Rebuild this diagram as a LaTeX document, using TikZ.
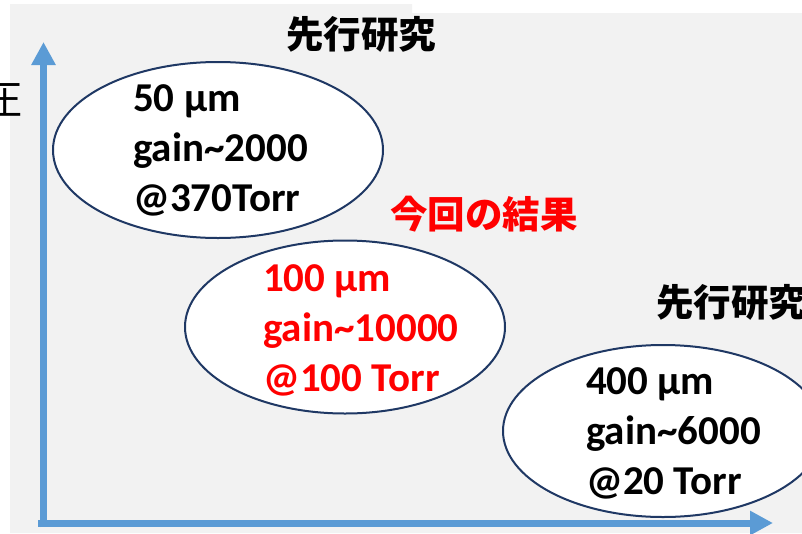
\documentclass[tikz,border=0pt]{standalone}
\usepackage{fontspec}
\setmainfont{Carlito}
\newfontfamily\cjk{Noto Sans CJK JP}
\usetikzlibrary{shapes.geometric,arrows.meta}
\definecolor{bgray}{HTML}{F2F2F2}
\definecolor{axisblue}{HTML}{5B9BD5}
\definecolor{ellnavy}{HTML}{1F3864}
\definecolor{resred}{HTML}{FF0000}
\tikzset{
  oval/.style={ellipse, draw=ellnavy, line width=2pt, fill=white, inner sep=0pt,
    minimum width=330pt, minimum height=176pt},
  lbl/.style={font=\bfseries\fontsize{41}{50}\selectfont, align=left, anchor=north west, inner sep=0pt},
  jlbl/.style={font=\cjk\bfseries\fontsize{37.5}{37.5}\selectfont, inner sep=0pt},
  axisline/.style={draw=axisblue, line width=7pt, -{Triangle[length=23pt,width=23pt]}}
}
\begin{document}
\begin{tikzpicture}[x=1pt,y=-1pt]
\clip (0,0) rectangle (802,533);
\fill[bgray] (10,4) -- (412,4) -- (412,13) -- (802,13) -- (802,533) -- (10,533) -- cycle;
% axes
\coordinate (ytop) at (43.5,42);
\coordinate (ybot) at (43.5,527);
\coordinate (xleft) at (38,523);
\coordinate (xright) at (773,523);
\draw[axisline] (ybot) -- (ytop);
\draw[axisline] (xleft) -- (xright);
% axis label (cut at the edge, as in the reference)
\node[font=\cjk\fontsize{40}{40}\selectfont, inner sep=0pt, anchor=east] (ylab) at (23,101) {圧};
% ellipses
\node[oval] (e1) at (218,150) {};
\node[oval, minimum width=320pt, minimum height=173pt] (e2) at (345,327) {};
\node[oval, minimum width=320pt, minimum height=172pt] (e3) at (663,431) {};
% texts
\node[lbl] (t1) at (133,84) {50 μm\\gain\textasciitilde2000\\@370Torr};
\node[lbl, text=resred] (t2) at (263,264) {100 μm\\gain\textasciitilde10000\\@100 Torr};
\node[lbl] (t3) at (586,367) {400 μm\\gain\textasciitilde6000\\@20 Torr};
% headings
\node[jlbl] (h1) at (361,34) {先行研究};
\node[jlbl, anchor=west] (h2) at (656,302) {先行研究};
\node[jlbl, text=resred] (h3) at (484,214) {今回の結果};
\end{tikzpicture}
\end{document}
